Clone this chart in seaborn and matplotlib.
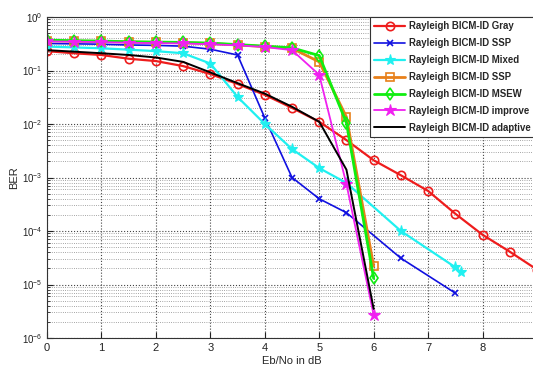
import matplotlib
matplotlib.use("Agg")
import matplotlib.pyplot as plt
import seaborn as sns
import numpy as np
import pandas as pd
from matplotlib.ticker import LogLocator, NullFormatter

sns.set_style("white")
plt.rcParams['font.family'] = ['Liberation Sans', 'DejaVu Sans']

# Data
x_gray = [0, 0.5, 1, 1.5, 2, 2.5, 3, 3.5, 4, 4.5, 5, 5.5, 6, 6.5, 7, 7.5, 8, 8.5, 9]
y_gray = [0.23, 0.21, 0.195, 0.166, 0.15, 0.121, 0.086, 0.056, 0.035, 0.02, 0.011,
          0.005, 0.0021, 0.0011, 5.6e-4, 2.1e-4, 8.5e-5, 4.1e-5, 1.9e-5]

x_ssp = [0, 0.5, 1, 1.5, 2, 2.5, 3, 3.5, 4, 4.5, 5, 5.5, 6.5, 7.5]
y_ssp = [0.32, 0.315, 0.31, 0.30, 0.295, 0.285, 0.25, 0.195, 0.013, 1.0e-3, 4e-4,
         2.2e-4, 3.1e-5, 6.9e-6]

x_mixed = [0, 0.5, 1, 1.5, 2, 2.5, 3, 3.5, 4, 4.5, 5, 5.5, 6.5, 7.5, 7.6]
y_mixed = [0.28, 0.27, 0.26, 0.245, 0.23, 0.21, 0.135, 0.032, 0.01, 3.4e-3, 1.5e-3,
           7.9e-4, 1e-4, 2.1e-5, 1.7e-5]

x_top = [0, 0.5, 1, 1.5, 2, 2.5, 3, 3.5, 4, 4.5, 5, 5.5, 6]
y_ssp2 = [0.36, 0.355, 0.35, 0.34, 0.335, 0.33, 0.32, 0.30, 0.28, 0.26, 0.145, 0.0135, 2.2e-5]
y_msew = [0.37, 0.36, 0.355, 0.345, 0.34, 0.335, 0.325, 0.305, 0.285, 0.265, 0.19, 0.0105, 1.3e-5]
y_improve = [0.35, 0.345, 0.34, 0.33, 0.325, 0.32, 0.31, 0.295, 0.275, 0.24, 0.083, 7.5e-4, 2.7e-6]

x_adapt = [0, 0.5, 1, 1.5, 2, 2.5, 3, 3.5, 4, 4.5, 5, 5.5, 6]
y_adapt = [0.24, 0.225, 0.21, 0.195, 0.175, 0.145, 0.092, 0.058, 0.037, 0.021, 0.011, 1.4e-3, 3.5e-6]

labels = ["Rayleigh BICM-ID Gray", "Rayleigh BICM-ID SSP", "Rayleigh BICM-ID Mixed",
          "Rayleigh BICM-ID SSP", "Rayleigh BICM-ID MSEW", "Rayleigh BICM-ID improve",
          "Rayleigh BICM-ID adaptive"]

fig = plt.figure(figsize=(5.33, 3.72), dpi=100)
ax = fig.add_axes([47/533, 1-338/372, 490/533, (338-17)/372])

series = [
    (x_gray, y_gray, '#ee1c1c', 'o', 1.6, dict(mfc='none', ms=6, mew=1.2)),
    (x_ssp, y_ssp, '#1010e0', 'x', 1.2, dict(ms=5, mew=1.2)),
    (x_mixed, y_mixed, '#20f0f0', '*', 1.6, dict(ms=8, mew=0.8)),
    (x_top, y_ssp2, '#e8801a', 's', 2.0, dict(mfc='none', ms=6, mew=1.2)),
    (x_top, y_msew, '#10ee10', 'd', 2.0, dict(mfc='none', ms=6, mew=1.2)),
    (x_top, y_improve, '#f020f0', '*', 1.3, dict(ms=9, mew=0.8)),
    (x_adapt, y_adapt, '#000000', None, 1.4, dict()),
]

for (xs, ys, c, m, lw, kw), lab in zip(series, labels):
    df = pd.DataFrame({"x": xs, "y": ys})
    if m is None:
        sns.lineplot(data=df, x="x", y="y", ax=ax, color=c, lw=lw, label=lab)
    else:
        sns.lineplot(data=df, x="x", y="y", ax=ax, color=c, lw=lw, marker=m,
                     mec=c, label=lab, **kw)

ax.set_yscale('log')
ax.set_xlim(0, 9)
ax.set_ylim(1e-6, 1)
ax.set_xticks(range(0, 9))
ax.yaxis.set_major_locator(LogLocator(base=10, numticks=10))
ax.yaxis.set_minor_locator(LogLocator(base=10, subs=np.arange(2, 10), numticks=20))
ax.yaxis.set_minor_formatter(NullFormatter())
ax.grid(True, which='major', axis='both', ls=':', lw=0.8, color='#444444')
ax.grid(True, which='minor', axis='y', ls=':', lw=0.6, color='#888888')
ax.tick_params(axis='both', which='major', labelsize=8, direction='in', length=4,
               bottom=True, left=True, colors='#222222')
ax.tick_params(axis='y', which='minor', direction='in', length=2, left=True)
ax.tick_params(axis='y', labelsize=7)
for s in ax.spines.values():
    s.set_color('#333333')
    s.set_linewidth(0.8)

ax.set_xlabel("Eb/No in dB", fontsize=8, labelpad=2)
ax.set_ylabel("BER", fontsize=8, labelpad=2)

leg = ax.legend(loc='upper left', bbox_to_anchor=(370/533, 1-17/372),
                bbox_transform=fig.transFigure,
                prop={'family': ['Liberation Sans'], 'weight': 'bold', 'size': 6.9},
                frameon=True, fancybox=False, edgecolor='#333333', framealpha=1,
                handlelength=3.2, handletextpad=0.4, borderpad=0.45,
                labelspacing=0.72, borderaxespad=0)
leg.get_frame().set_linewidth(0.8)

fig.savefig("out.png", dpi=100)
